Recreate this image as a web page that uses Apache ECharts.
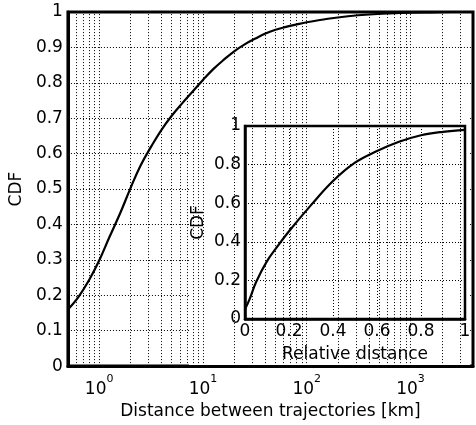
<!DOCTYPE html>
<html>
<head>
<meta charset="utf-8">
<script src="https://cdn.jsdelivr.net/npm/echarts@6/dist/echarts.min.js"></script>
<style>
html,body{margin:0;padding:0;background:#fff;}
#chart{width:476px;height:425px;}
</style>
</head>
<body>
<div id="chart"></div>
<script>
// Main CDF: distance between trajectories [km] (log axis)
const mainX = [0.5, 0.63, 0.8, 1, 1.25, 1.6, 2, 2.5, 3.2, 4, 5, 6.3, 8, 10, 12.5, 16, 20, 25, 32, 40, 50, 63, 80, 100, 160, 250, 400, 630, 1000, 1600, 2500, 4000];
const mainY = [0.16, 0.195, 0.243, 0.298, 0.363, 0.433, 0.502, 0.566, 0.622, 0.668, 0.707, 0.742, 0.776, 0.808, 0.838, 0.866, 0.889, 0.908, 0.925, 0.939, 0.95, 0.958, 0.965, 0.971, 0.981, 0.988, 0.993, 0.996, 0.998, 0.999, 1.0, 1.0];
// Inset CDF: relative distance
const insetX = [0, 0.02, 0.05, 0.1, 0.15, 0.2, 0.3, 0.4, 0.5, 0.6, 0.7, 0.8, 0.9, 1.0];
const insetY = [0.05, 0.1, 0.19, 0.3, 0.38, 0.455, 0.59, 0.715, 0.81, 0.87, 0.918, 0.952, 0.97, 0.98];
// Minor (log) grid positions of the main x axis
const logGrid = [0.6, 0.7, 0.8, 0.9, 1, 2, 3, 4, 5, 6, 7, 8, 9, 10, 20, 30, 40, 50, 60, 70, 80, 90, 100, 200, 300, 400, 500, 600, 700, 800, 900, 1000, 2000, 3000];
const mainYTicks = [0, 0.1, 0.2, 0.3, 0.4, 0.5, 0.6, 0.7, 0.8, 0.9, 1];
const insetTicks = [0, 0.2, 0.4, 0.6, 0.8, 1];

const FONT = 'DejaVu Sans';
const FS = 17;
const dotted = {type: [1, 2], color: '#000', width: 1};

const chart = echarts.init(document.getElementById('chart'), null, {renderer: 'canvas'});
chart.setOption({
  animation: false,
  backgroundColor: '#fff',
  textStyle: {fontFamily: FONT},
  graphic: [{
    type: 'rect', z: 3, silent: true,
    shape: {x: 189, y: 108, width: 281, height: 259},
    style: {fill: '#fff'}
  }],
  grid: [
    {left: 66, top: 12, right: -5, bottom: 56, show: true, backgroundColor: '#fff', borderColor: '#000', borderWidth: 3, z: 0},
    {left: 245, top: 126, right: 11, bottom: 106, show: true, backgroundColor: '#fff', borderColor: '#000', borderWidth: 2.5, z: 4}
  ],
  xAxis: [
    {
      type: 'log', logBase: 10, min: 0.5, max: 4000, gridIndex: 0, z: 10,
      name: 'Distance between trajectories [km]', nameLocation: 'middle', nameGap: 34,
      nameTextStyle: {fontSize: FS, color: '#000', fontFamily: FONT},
      axisLine: {show: true, lineStyle: {color: '#000', width: 3}},
      axisTick: {show: false},
      splitLine: {show: false},
      axisLabel: {
        margin: 8,
        formatter: function (v) {
          const e = Math.log10(v);
          if (Math.abs(e - Math.round(e)) > 1e-6) return '';
          return '{b|10}{s|' + Math.round(e) + '}';
        },
        rich: {
          b: {fontSize: FS, fontFamily: FONT, color: '#000', lineHeight: 24, verticalAlign: 'bottom'},
          s: {fontSize: 11, fontFamily: FONT, color: '#000', lineHeight: 12, verticalAlign: 'top'}
        }
      }
    },
    {
      type: 'value', min: 0, max: 1, interval: 0.2, gridIndex: 1, z: 5,
      name: 'Relative distance', nameLocation: 'middle', nameGap: 27,
      nameTextStyle: {fontSize: FS, color: '#000', fontFamily: FONT},
      axisLine: {show: true, lineStyle: {color: '#000', width: 2.5}},
      axisTick: {show: false},
      splitLine: {show: true, lineStyle: dotted},
      axisLabel: {margin: 4, fontSize: FS, color: '#000', fontFamily: FONT,
        formatter: v => String(insetTicks.find(t => Math.abs(t - v) < 1e-6) ?? '')}
    }
  ],
  yAxis: [
    {
      type: 'value', min: 0, max: 1, interval: 0.1, gridIndex: 0, z: 1,
      name: 'CDF', nameLocation: 'middle', nameGap: 40,
      nameTextStyle: {fontSize: FS, color: '#000', fontFamily: FONT},
      axisLine: {show: true, lineStyle: {color: '#000', width: 3}},
      axisTick: {show: false},
      splitLine: {show: true, lineStyle: dotted},
      axisLabel: {margin: 5, fontSize: FS, color: '#000', fontFamily: FONT,
        formatter: v => String(mainYTicks.find(t => Math.abs(t - v) < 1e-6) ?? '')}
    },
    {
      type: 'value', min: 0, max: 1, interval: 0.2, gridIndex: 1, z: 5,
      name: 'CDF', nameLocation: 'middle', nameGap: 38,
      nameTextStyle: {fontSize: FS, color: '#000', fontFamily: FONT},
      axisLine: {show: true, lineStyle: {color: '#000', width: 2.5}},
      axisTick: {show: false},
      splitLine: {show: true, lineStyle: dotted},
      axisLabel: {margin: 4, fontSize: FS, color: '#000', fontFamily: FONT,
        formatter: v => String(insetTicks.find(t => Math.abs(t - v) < 1e-6) ?? '')}
    }
  ],
  series: [
    {
      type: 'line', xAxisIndex: 0, yAxisIndex: 0, z: 2,
      data: mainX.map((x, i) => [x, mainY[i]]),
      showSymbol: false, smooth: 0.4,
      lineStyle: {color: '#000', width: 2.2},
      markLine: {
        silent: true, symbol: ['none', 'none'], label: {show: false},
        lineStyle: dotted, animation: false,
        data: logGrid.map(v => ({xAxis: v}))
      }
    },
    {
      type: 'line', xAxisIndex: 1, yAxisIndex: 1, z: 6,
      data: insetX.map((x, i) => [x, insetY[i]]),
      showSymbol: false, smooth: 0.4,
      lineStyle: {color: '#000', width: 2.2}
    }
  ]
});
</script>
</body>
</html>
